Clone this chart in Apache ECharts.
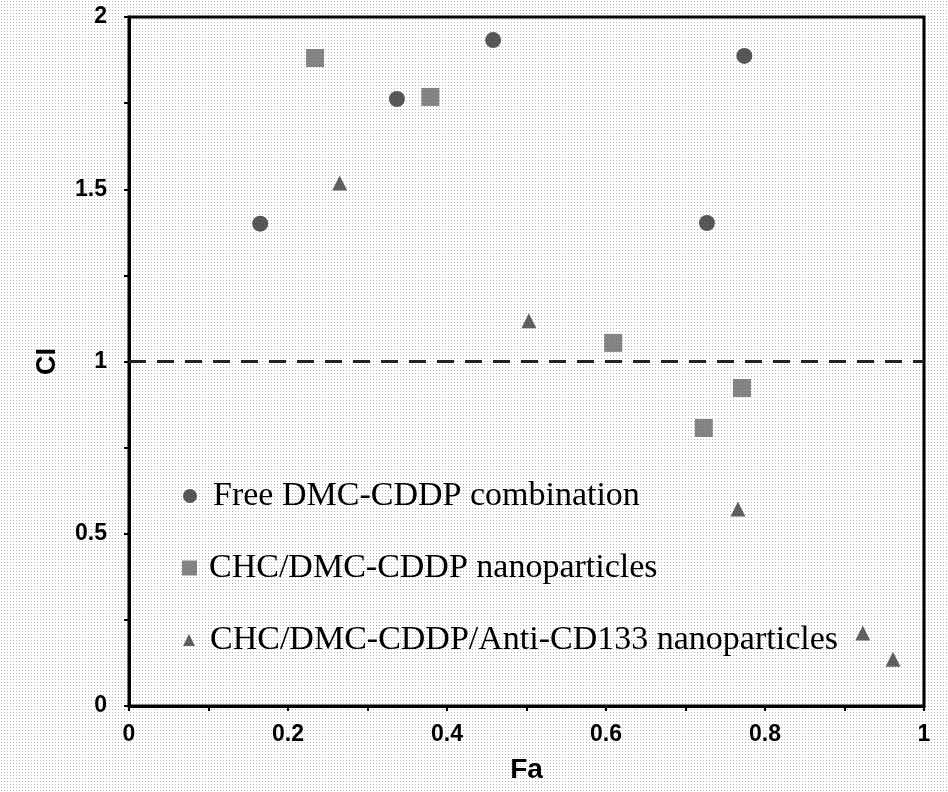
<!DOCTYPE html>
<html>
<head>
<meta charset="utf-8">
<script src="https://cdn.jsdelivr.net/npm/echarts@6/dist/echarts.min.js"></script>
<style>
html,body{margin:0;padding:0;background:#fff;}
#chart{width:948px;height:792px;}
</style>
</head>
<body>
<div id="chart"></div>
<script>
// Data
const seriesNames = [
  'Free DMC-CDDP combination',
  'CHC/DMC-CDDP nanoparticles',
  'CHC/DMC-CDDP/Anti-CD133 nanoparticles'
];
const freeFa = [0.165, 0.337, 0.458, 0.727, 0.774];
const freeCI = [1.40, 1.762, 1.933, 1.402, 1.887];
const chcFa  = [0.234, 0.379, 0.609, 0.723, 0.771];
const chcCI  = [1.881, 1.768, 1.054, 0.807, 0.923];
const antiFa = [0.265, 0.503, 0.766, 0.923, 0.961];
const antiCI = [1.518, 1.118, 0.572, 0.212, 0.136];
const referenceCI = 1;

// halftone-like dotted page background
(function(){
  const c = document.createElement('canvas');
  c.width = 3; c.height = 3;
  const ctx = c.getContext('2d');
  ctx.fillStyle = '#fff'; ctx.fillRect(0,0,3,3);
  ctx.fillStyle = '#b4b4b4'; ctx.fillRect(1,1,1,1);
  document.body.style.backgroundImage = 'url(' + c.toDataURL() + ')';
})();

function pairs(xs, ys){ return xs.map((x,i)=>[x, ys[i]]); }

const axisFont = {fontFamily:'Liberation Sans, Arial, sans-serif', fontWeight:'bold', color:'#000'};
function legendText(pad){
  return {fontFamily:'Liberation Serif, Times New Roman, serif', fontSize:34, color:'#000',
    rich:{t:{fontFamily:'Liberation Serif, Times New Roman, serif', fontSize:34, color:'#000', padding:[0,0,0,pad]}}};
}
const fmt = name => '{t|' + name + '}';

const chart = echarts.init(document.getElementById('chart'), null, {renderer:'canvas'});
chart.setOption({
  backgroundColor: 'transparent',
  animation: false,
  grid: {left:129, right:24, top:17, bottom:86, show:true, borderColor:'#000', borderWidth:3, backgroundColor:'transparent'},
  xAxis: {
    type:'value', min:0, max:1, interval:0.2,
    name:'Fa', nameLocation:'middle', nameGap:50,
    nameTextStyle: Object.assign({fontSize:28}, axisFont),
    axisLine:{show:true, lineStyle:{color:'#000', width:3}},
    axisTick:{show:true, inside:false, length:5, lineStyle:{color:'#000', width:2}},
    minorTick:{show:true, splitNumber:2, length:5, lineStyle:{color:'#000', width:2}},
    splitLine:{show:false},
    axisLabel: Object.assign({fontSize:23, margin:17, formatter: v => String(+v.toFixed(1))}, axisFont)
  },
  yAxis: {
    type:'value', min:0, max:2, interval:0.5,
    name:'CI', nameLocation:'middle', nameGap:68,
    nameTextStyle: Object.assign({fontSize:27}, axisFont),
    axisLine:{show:true, lineStyle:{color:'#000', width:3}},
    axisTick:{show:true, inside:false, length:5, lineStyle:{color:'#000', width:2}},
    minorTick:{show:true, splitNumber:2, length:5, lineStyle:{color:'#000', width:2}},
    splitLine:{show:false},
    axisLabel: Object.assign({fontSize:23, margin:22}, axisFont)
  },
  legend: [
    {data:[{name:seriesNames[0], icon:'circle'}], orient:'vertical', left:183, top:479, padding:0,
     itemWidth:14, itemHeight:14, textStyle:legendText(11), formatter:fmt, selectedMode:false},
    {data:[{name:seriesNames[1], icon:'rect'}], orient:'vertical', left:182, top:551, padding:0,
     itemWidth:15, itemHeight:15, textStyle:legendText(7), formatter:fmt, selectedMode:false},
    {data:[{name:seriesNames[2], icon:'triangle'}], orient:'vertical', left:183, top:623, padding:0,
     itemWidth:12, itemHeight:12, textStyle:legendText(10), formatter:fmt, selectedMode:false}
  ],
  series: [
    {name:seriesNames[0], type:'scatter', symbol:'circle', symbolSize:16,
     itemStyle:{color:'#2e2e2e'}, data:pairs(freeFa, freeCI), z:3,
     markLine:{silent:true, symbol:'none', label:{show:false},
       lineStyle:{color:'#222', width:3, type:[17,11]},
       data:[{yAxis:referenceCI}]}},
    {name:seriesNames[1], type:'scatter', symbol:'rect', symbolSize:18,
     itemStyle:{color:'#666666'}, data:pairs(chcFa, chcCI), z:3},
    {name:seriesNames[2], type:'scatter', symbol:'triangle', symbolSize:15,
     itemStyle:{color:'#3a3a3a'}, data:pairs(antiFa, antiCI), z:3}
  ]
});
</script>
</body>
</html>
